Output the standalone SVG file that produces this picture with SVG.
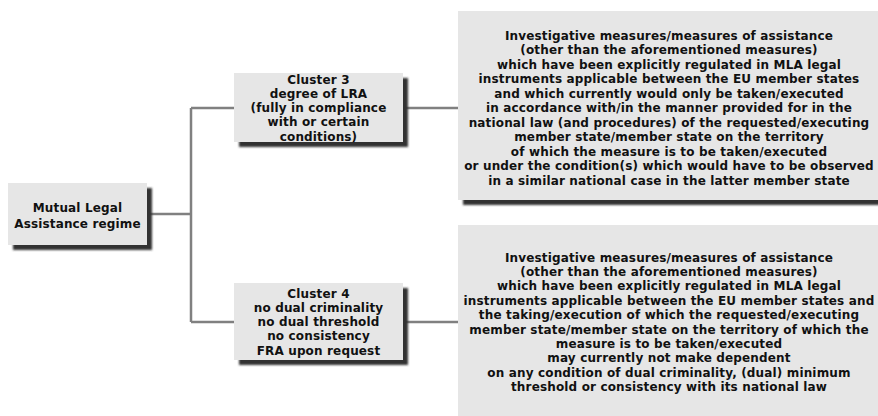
<svg xmlns="http://www.w3.org/2000/svg" width="878" height="416" viewBox="0 0 878 416">
<defs>
<filter id="sh" x="-10%" y="-10%" width="130%" height="130%"><feGaussianBlur stdDeviation="0.8"/></filter>
<style>
.box{fill:#e6e6e6}
.shadow{fill:#333;filter:url(#sh)}
.t{font-family:"DejaVu Sans",Verdana,sans-serif;font-weight:bold;font-size:12px;letter-spacing:0.15px;fill:#111;text-anchor:middle}
.c{fill:none;stroke:#808080;stroke-width:2.5}
</style>
</defs>
<rect width="878" height="416" fill="#fff"/>
<g id="connectors">
<path class="c" d="M147 214H191M191 108V322M191 108H234M191 322H234M403 108H458M403 322H458"/>
</g>
<g id="mla">
<rect class="shadow" x="13" y="188" width="139" height="62"/>
<rect class="box" x="8" y="183" width="139" height="62"/>
<text class="t" x="77.5" y="211.5">Mutual Legal</text>
<text class="t" x="77.5" y="227.5">Assistance regime</text>
</g>
<g id="cluster3">
<rect class="shadow" x="239" y="78" width="169" height="69"/>
<rect class="box" x="234" y="73" width="169" height="69"/>
<text class="t" x="318.5" y="83.5">Cluster 3</text>
<text class="t" x="318.5" y="97.8">degree of LRA</text>
<text class="t" x="318.5" y="112.1">(fully in compliance</text>
<text class="t" x="318.5" y="126.4">with or certain</text>
<text class="t" x="318.5" y="140.7">conditions)</text>
</g>
<g id="cluster4">
<rect class="shadow" x="239" y="288" width="169" height="77"/>
<rect class="box" x="234" y="283" width="169" height="77"/>
<text class="t" x="318.5" y="297.5">Cluster 4</text>
<text class="t" x="318.5" y="311.8">no dual criminality</text>
<text class="t" x="318.5" y="326.1">no dual threshold</text>
<text class="t" x="318.5" y="340.4">no consistency</text>
<text class="t" x="318.5" y="354.7">FRA upon request</text>
</g>
<g id="desc3">
<rect class="shadow" x="463" y="16" width="430" height="189"/>
<rect class="box" x="458" y="11" width="430" height="189"/>
<text class="t" x="669" y="39.5">Investigative measures/measures of assistance</text>
<text class="t" x="669" y="54">(other than the aforementioned measures)</text>
<text class="t" x="669" y="68.5">which have been explicitly regulated in MLA legal</text>
<text class="t" x="669" y="83">instruments applicable between the EU member states</text>
<text class="t" x="669" y="97.5">and which currently would only be taken/executed</text>
<text class="t" x="669" y="112">in accordance with/in the manner provided for in the</text>
<text class="t" x="669" y="126.5">national law (and procedures) of the requested/executing</text>
<text class="t" x="669" y="141">member state/member state on the territory</text>
<text class="t" x="669" y="155.5">of which the measure is to be taken/executed</text>
<text class="t" x="669" y="170">or under the condition(s) which would have to be observed</text>
<text class="t" x="669" y="184.5">in a similar national case in the latter member state</text>
</g>
<g id="desc4">
<rect class="shadow" x="463" y="230" width="430" height="200"/>
<rect class="box" x="458" y="225" width="430" height="200"/>
<text class="t" x="669" y="261.5">Investigative measures/measures of assistance</text>
<text class="t" x="669" y="275.9">(other than the aforementioned measures)</text>
<text class="t" x="669" y="290.3">which have been explicitly regulated in MLA legal</text>
<text class="t" x="669" y="304.7">instruments applicable between the EU member states and</text>
<text class="t" x="669" y="319.1">the taking/execution of which the requested/executing</text>
<text class="t" x="669" y="333.5">member state/member state on the territory of which the</text>
<text class="t" x="669" y="347.9">measure is to be taken/executed</text>
<text class="t" x="669" y="362.3">may currently not make dependent</text>
<text class="t" x="669" y="376.7">on any condition of dual criminality, (dual) minimum</text>
<text class="t" x="669" y="391.1">threshold or consistency with its national law</text>
</g>
</svg>
